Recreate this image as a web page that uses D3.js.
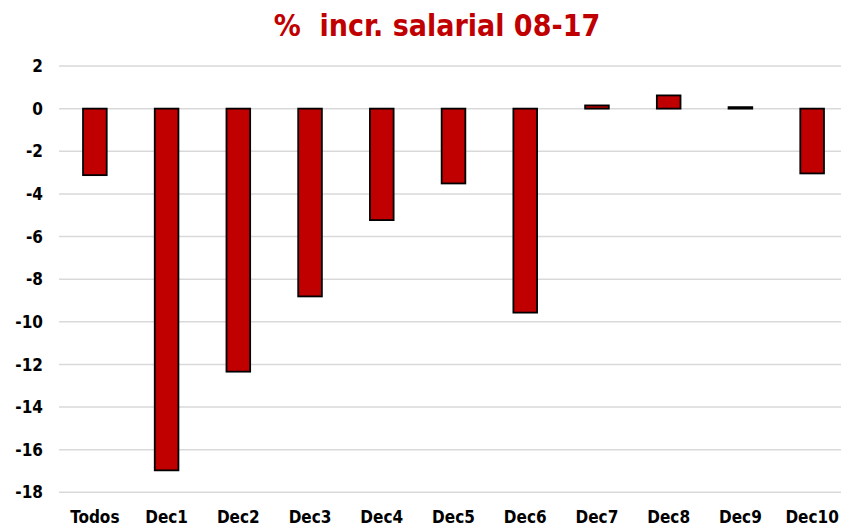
<!DOCTYPE html>
<html>
<head>
<meta charset="utf-8">
<script src="https://cdn.jsdelivr.net/npm/d3@7"></script>
<style>
  body { margin: 0; background: #fff; }
  text { font-family: "Liberation Sans Narrow", "DejaVu Sans Condensed", sans-serif; font-weight: bold; }
  .title { white-space: pre; }
</style>
</head>
<body>
<div id="chart"></div>
<script>
// data
const categories = ["Todos", "Dec1", "Dec2", "Dec3", "Dec4", "Dec5", "Dec6", "Dec7", "Dec8", "Dec9", "Dec10"];
const values = [-3.12, -16.97, -12.34, -8.81, -5.23, -3.51, -9.57, 0.15, 0.62, 0.07, -3.04];
const yTicks = [2, 0, -2, -4, -6, -8, -10, -12, -14, -16, -18];
const title = "%  incr. salarial 08-17";

const width = 841, height = 528;
const red = "#c00000";

const svg = d3.select("#chart").append("svg")
    .attr("width", width)
    .attr("height", height);

// band range runs a bit past the right edge, as in the original
const x = d3.scaleBand()
    .domain(categories)
    .range([59, 848])
    .paddingInner(0.67)
    .paddingOuter(0.335);

const y = d3.scaleLinear()
    .domain([-18, 2])
    .range([492.3, 66]);

// gridlines
svg.append("g")
    .selectAll("line")
    .data(yTicks)
    .enter().append("line")
    .attr("x1", 59)
    .attr("x2", width)
    .attr("y1", d => y(d))
    .attr("y2", d => y(d))
    .attr("stroke", "#d9d9d9")
    .attr("stroke-width", 1.5);

// y labels
svg.append("g")
    .selectAll("text")
    .data(yTicks)
    .enter().append("text")
    .attr("x", 43)
    .attr("y", d => y(d))
    .attr("dy", "0.36em")
    .attr("text-anchor", "end")
    .attr("font-size", 17)
    .attr("fill", "#000")
    .text(d => d);

// bars
svg.append("g")
    .selectAll("rect")
    .data(values)
    .enter().append("rect")
    .attr("x", (d, i) => x(categories[i]))
    .attr("width", x.bandwidth())
    .attr("y", d => y(Math.max(0, d)))
    .attr("height", d => Math.abs(y(d) - y(0)))
    .attr("fill", red)
    .attr("stroke", "#000")
    .attr("stroke-width", 1.8);

// x labels
svg.append("g")
    .selectAll("text")
    .data(categories)
    .enter().append("text")
    .attr("x", d => x(d) + x.bandwidth() / 2)
    .attr("y", 523)
    .attr("text-anchor", "middle")
    .attr("font-size", 17)
    .attr("fill", "#000")
    .text(d => d);

// title
svg.append("text")
    .attr("class", "title")
    .attr("x", 437)
    .attr("y", 36)
    .attr("text-anchor", "middle")
    .attr("font-size", 30)
    .attr("fill", red)
    .text(title);
</script>
</body>
</html>
